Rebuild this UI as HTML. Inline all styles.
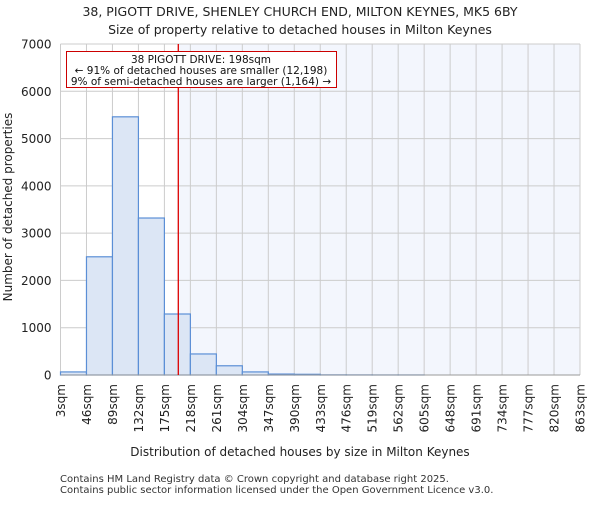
<!DOCTYPE html>
<html><head><meta charset="utf-8"><style>
body{margin:0;background:#fff;font-family:"Liberation Sans","DejaVu Sans",sans-serif}
svg text{font-family:"DejaVu Sans","Liberation Sans",sans-serif}
</style></head><body>
<svg id="c" width="600" height="500"></svg>
<script>
const categories=["3sqm","46sqm","89sqm","132sqm","175sqm","218sqm","261sqm","304sqm","347sqm","390sqm","433sqm","476sqm","519sqm","562sqm","605sqm","648sqm","691sqm","734sqm","777sqm","820sqm","863sqm"];
const counts=[65,2500,5460,3320,1290,445,195,65,20,15,3,2,1,1,0,0,0,0,0,0];
const yTicks=[0,1000,2000,3000,4000,5000,6000,7000];
const edgeStart=3, binW=43, marker=198;
const NS="http://www.w3.org/2000/svg";
const svg=document.getElementById('c');
const L=60.5,R=580,T=44,B=375,yMax=7000;
const x=v=>L+(v-edgeStart)/(binW*counts.length)*(R-L);
const y=v=>B-v/yMax*(B-T);
function mk(t,a,p){const e=document.createElementNS(NS,t);for(const k in a)e.setAttribute(k,a[k]);(p||svg).appendChild(e);return e;}
const sh=mk('rect',{x:x(marker),y:T,width:R-x(marker),height:B-T,fill:'#f3f6fd'});


yTicks.forEach(t=>{
 const g=mk('line',{x1:L,x2:R,y1:y(t),y2:y(t),stroke:'#cccccc','stroke-width':1});
 
 
 const lb=mk('text',{x:L-9,y:y(t)+4.5,'text-anchor':'end','font-size':12,fill:'#222'});lb.textContent=t;
 
 
});
categories.forEach((c,i)=>{
 const xv=x(edgeStart+i*binW);
 const g=mk('line',{x1:xv,x2:xv,y1:T,y2:B,stroke:'#cccccc','stroke-width':1});
 
 
 const lb=mk('text',{x:0,y:0,'text-anchor':'end','font-size':12,fill:'#222',transform:`translate(${xv+4.5},${B+9}) rotate(-90)`});lb.textContent=c;
 
 
});
counts.forEach((v,i)=>{
 const x0=x(edgeStart+i*binW),x1=x(edgeStart+(i+1)*binW);
 const r=mk('rect',{x:x0,y:y(v),width:x1-x0,height:B-y(v),fill:'#dce6f5',stroke:'#5b8fd6','stroke-width':1.2});
 
 
});
const ax=mk('line',{x1:L,x2:R,y1:B,y2:B,stroke:'#999','stroke-width':1});


const ml=mk('line',{x1:x(marker),x2:x(marker),y1:T,y2:B,stroke:'#d00','stroke-width':1.3});


const box=mk('g',{});


mk('rect',{x:66.5,y:51.5,width:270,height:36,fill:'#fff',stroke:'#c00','stroke-width':1},box);
[["38 PIGOTT DRIVE: 198sqm",63],["← 91% of detached houses are smaller (12,198)",74],["9% of semi-detached houses are larger (1,164) →",85]].forEach(([t,yy])=>{
 const e=mk('text',{x:201,y:yy,'text-anchor':'middle','font-size':10.5,fill:'#111'},box);e.textContent=t;
});
</script>
<div style="position:absolute;top:3px;left:0;width:600px;text-align:center;font:12.5px 'DejaVu Sans',sans-serif;color:#222;line-height:18px">38, PIGOTT DRIVE, SHENLEY CHURCH END, MILTON KEYNES, MK5 6BY<br>Size of property relative to detached houses in Milton Keynes</div>
<div style="position:absolute;left:-142px;top:200px;width:300px;white-space:nowrap;text-align:center;transform:rotate(-90deg);font:12px 'DejaVu Sans',sans-serif;color:#222">Number of detached properties</div>
<div style="position:absolute;left:0;top:445px;width:580px;padding-left:20px;box-sizing:border-box;text-align:center;font:12px 'DejaVu Sans',sans-serif;color:#222">Distribution of detached houses by size in Milton Keynes</div>
<div style="position:absolute;left:60px;top:474px;font:10px 'DejaVu Sans',sans-serif;color:#333;line-height:11px">Contains HM Land Registry data © Crown copyright and database right 2025.<br>Contains public sector information licensed under the Open Government Licence v3.0.</div>
</body></html>
